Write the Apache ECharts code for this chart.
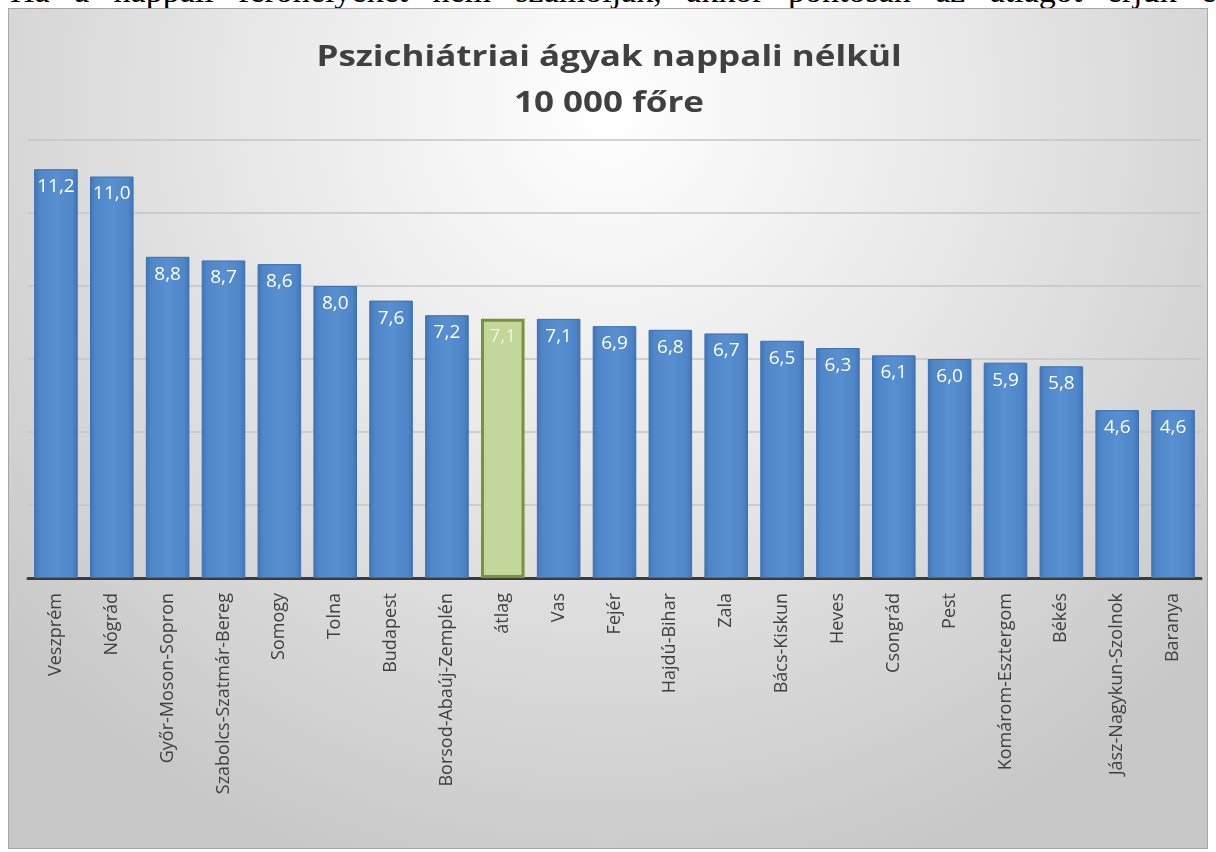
<!DOCTYPE html>
<html>
<head>
<meta charset="utf-8">
<script src="https://cdn.jsdelivr.net/npm/echarts@6/dist/echarts.min.js"></script>
<style>
  html, body { margin: 0; padding: 0; background: #ffffff; width: 1216px; height: 852px; overflow: hidden; }
  #lead {
    position: absolute; left: 10px; top: -29px; width: 1224px;
    font-family: "Liberation Serif", "DejaVu Serif", serif; font-size: 34px; line-height: 40px;
    color: #000;
  }
  #lead span { display: block; text-align: justify; text-align-last: justify; }
  #chart {
    position: absolute; left: 8px; top: 8px; width: 1200px; height: 841px;
    border: 1px solid #a6a6a6; box-sizing: border-box;
  }
</style>
</head>
<body>
<div id="lead"><span>Ha a nappali férőhelyeket nem számolják, akkor pontosan az átlagot érjük el.</span></div>
<div id="chart"></div>
<script>
// Counties sorted by psychiatric beds (excluding day care) per 10 000 inhabitants
const categories = [
  'Veszprém', 'Nógrád', 'Győr-Moson-Sopron', 'Szabolcs-Szatmár-Bereg', 'Somogy',
  'Tolna', 'Budapest', 'Borsod-Abaúj-Zemplén', 'átlag', 'Vas', 'Fejér',
  'Hajdú-Bihar', 'Zala', 'Bács-Kiskun', 'Heves', 'Csongrád', 'Pest',
  'Komárom-Esztergom', 'Békés', 'Jász-Nagykun-Szolnok', 'Baranya'
];
const bedsPer10000 = [
  11.2, 11.0, 8.8, 8.7, 8.6, 8.0, 7.6, 7.2, 7.1, 7.1, 6.9,
  6.8, 6.7, 6.5, 6.3, 6.1, 6.0, 5.9, 5.8, 4.6, 4.6
];
const averageName = 'átlag';
const titleLines = ['Pszichiátriai ágyak nappali nélkül', '10 000 főre'];

const chart = echarts.init(document.getElementById('chart'), null, { renderer: 'canvas' });

const blueFill = new echarts.graphic.LinearGradient(0, 0, 1, 0, [
  { offset: 0, color: '#3f74b6' },
  { offset: 0.12, color: '#4f86c8' },
  { offset: 0.5, color: '#588fd0' },
  { offset: 0.88, color: '#4f86c8' },
  { offset: 1, color: '#3f74b6' }
]);

const fmt = v => v.toFixed(1).replace('.', ',');

const seriesData = categories.map((name, i) => {
  const item = { value: bedsPer10000[i] };
  if (name === averageName) {
    item.itemStyle = { color: '#c3d69b', borderColor: '#77933c', borderWidth: 3 };
    item.label = { color: '#eef4de' };
  }
  return item;
});

const font = '"Open Sans", Lato, sans-serif';

// Title drawn as two wide bold lines, centred over the plot
const titleText = (text, y) => ({
  type: 'text',
  x: 600,
  y: y,
  scaleX: 1.25,
  silent: true,
  style: {
    text: text,
    align: 'center',
    verticalAlign: 'middle',
    fontFamily: font,
    fontWeight: 'bold',
    fontSize: 28,
    fill: '#404040'
  }
});

chart.setOption({
  backgroundColor: new echarts.graphic.RadialGradient(0.5, 0.12, 0.95, [
    { offset: 0, color: '#ffffff' },
    { offset: 0.45, color: '#e8e8e8' },
    { offset: 1, color: '#c8c8c8' }
  ]),
  animation: false,
  graphic: [titleText(titleLines[0], 49), titleText(titleLines[1], 95)],
  grid: { left: 19, right: 6, top: 131, bottom: 270, containLabel: false },
  xAxis: {
    type: 'category',
    data: categories,
    axisLine: { lineStyle: { color: '#3a3a3a', width: 3 } },
    axisTick: { show: false },
    axisLabel: {
      rotate: 90,
      interval: 0,
      margin: 15,
      color: '#404040',
      fontFamily: font,
      fontSize: 18
    }
  },
  yAxis: {
    type: 'value',
    min: 0,
    max: 12,
    interval: 2,
    axisLabel: { show: false },
    axisLine: { show: false },
    axisTick: { show: false },
    splitLine: { lineStyle: { color: '#c4c4c4', width: 1.5 } }
  },
  series: [{
    type: 'bar',
    data: seriesData,
    barWidth: '78%',
    itemStyle: { color: blueFill, borderColor: '#3c70b1', borderWidth: 1 },
    label: {
      show: true,
      position: 'insideTop',
      distance: 8,
      color: '#ffffff',
      fontFamily: font,
      fontSize: 19,
      formatter: p => fmt(p.value)
    }
  }]
});
</script>
</body>
</html>
